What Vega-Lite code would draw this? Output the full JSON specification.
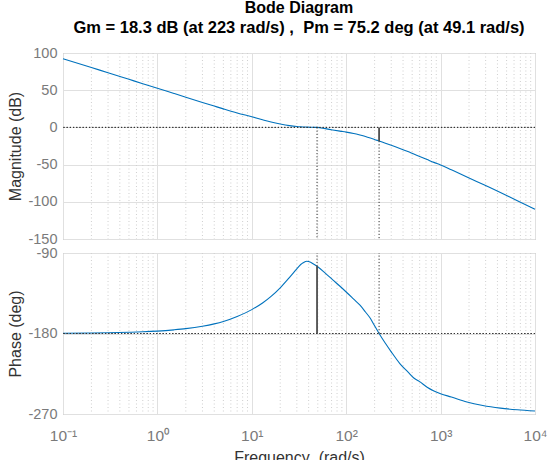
{
  "$schema": "https://vega.github.io/schema/vega-lite/v6.json",
  "padding": {"left": 7, "top": 0, "right": 5, "bottom": 5},
  "background": "white",
  "bounds": "flush",
  "title": {
    "text": "Bode Diagram",
    "subtitle": "Gm = 18.3 dB (at 223 rad/s) , \u00a0Pm = 75.2 deg (at 49.1 rad/s)",
    "font": "Liberation Sans",
    "subtitleFont": "Liberation Sans",
    "fontSize": 16,
    "subtitleFontSize": 16.5,
    "fontWeight": "bold",
    "subtitleFontWeight": "bold",
    "color": "#000000",
    "subtitleColor": "#000000",
    "anchor": "middle",
    "frame": "group",
    "offset": 8,
    "subtitlePadding": 4
  },
  "datasets": {
    "bode": [
      {"f": 0.1, "mag": 92.4, "phase": -179.7},
      {"f": 0.2, "mag": 80.5, "phase": -179.5},
      {"f": 0.3, "mag": 73.4, "phase": -179.2},
      {"f": 0.5, "mag": 64.6, "phase": -178.6},
      {"f": 0.7, "mag": 58.8, "phase": -178.1},
      {"f": 1, "mag": 52.7, "phase": -177.3},
      {"f": 1.5, "mag": 45.6, "phase": -175.9},
      {"f": 2, "mag": 40.6, "phase": -174.6},
      {"f": 3, "mag": 33.6, "phase": -171.9},
      {"f": 4, "mag": 28.7, "phase": -169.2},
      {"f": 5, "mag": 24.9, "phase": -166.5},
      {"f": 7, "mag": 19.4, "phase": -160.9},
      {"f": 10, "mag": 14.3, "phase": -153.3},
      {"f": 13, "mag": 10.3, "phase": -145.9},
      {"f": 16, "mag": 7.3, "phase": -138.5},
      {"f": 20, "mag": 4.6, "phase": -128.9},
      {"f": 25, "mag": 2.4, "phase": -117.5},
      {"f": 30, "mag": 1.2, "phase": -107.8},
      {"f": 33, "mag": 0.8, "phase": -102.9},
      {"f": 35, "mag": 0.6, "phase": -101.0},
      {"f": 38.3, "mag": 0.4, "phase": -99.2},
      {"f": 42, "mag": 0.2, "phase": -100.4},
      {"f": 45, "mag": 0.1, "phase": -102.3},
      {"f": 49.1, "mag": 0, "phase": -104.8},
      {"f": 60, "mag": -1.7, "phase": -112.5},
      {"f": 72, "mag": -3.4, "phase": -120.0},
      {"f": 86, "mag": -5.0, "phase": -127.2},
      {"f": 100, "mag": -6.3, "phase": -133.6},
      {"f": 120, "mag": -8.2, "phase": -141.6},
      {"f": 140, "mag": -10.3, "phase": -148.4},
      {"f": 160, "mag": -12.3, "phase": -156.0},
      {"f": 180, "mag": -14.3, "phase": -163.0},
      {"f": 200, "mag": -16.2, "phase": -171.4},
      {"f": 223, "mag": -18.3, "phase": -180.0},
      {"f": 260, "mag": -21.2, "phase": -190.9},
      {"f": 300, "mag": -24.0, "phase": -200.5},
      {"f": 370, "mag": -28.3, "phase": -213.6},
      {"f": 450, "mag": -32.5, "phase": -223.0},
      {"f": 520, "mag": -35.8, "phase": -229.7},
      {"f": 600, "mag": -39.0, "phase": -233.8},
      {"f": 720, "mag": -43.2, "phase": -240.0},
      {"f": 850, "mag": -47.0, "phase": -244.2},
      {"f": 1000, "mag": -50.5, "phase": -247.3},
      {"f": 1300, "mag": -57.0, "phase": -251.0},
      {"f": 1900, "mag": -66.5, "phase": -256.6},
      {"f": 2800, "mag": -76.5, "phase": -260.5},
      {"f": 4300, "mag": -87.5, "phase": -263.4},
      {"f": 6500, "mag": -98.5, "phase": -265.3},
      {"f": 10000, "mag": -110.0, "phase": -266.7}
    ],
    "margins": [
      {"f": 49.1, "mag": 0, "phase": -104.8, "kind": "Pm"},
      {"f": 223, "mag": -18.3, "phase": -180, "kind": "Gm"}
    ],
    "minor": [
      {"f": 0.2}, {"f": 0.3}, {"f": 0.4}, {"f": 0.5}, {"f": 0.6}, {"f": 0.7}, {"f": 0.8}, {"f": 0.9},
      {"f": 2}, {"f": 3}, {"f": 4}, {"f": 5}, {"f": 6}, {"f": 7}, {"f": 8}, {"f": 9},
      {"f": 20}, {"f": 30}, {"f": 40}, {"f": 50}, {"f": 60}, {"f": 70}, {"f": 80}, {"f": 90},
      {"f": 200}, {"f": 300}, {"f": 400}, {"f": 500}, {"f": 600}, {"f": 700}, {"f": 800}, {"f": 900},
      {"f": 2000}, {"f": 3000}, {"f": 4000}, {"f": 5000}, {"f": 6000}, {"f": 7000}, {"f": 8000}, {"f": 9000}
    ]
  },
  "config": {
    "font": "Liberation Sans",
    "view": {"stroke": "#a0a0a0", "strokeWidth": 1},
    "axis": {
      "labelFont": "Liberation Sans",
      "labelFontSize": 14.5,
      "labelColor": "#7a7a7a",
      "labelOverlap": false,
      "titleFont": "Liberation Sans",
      "titleFontSize": 16,
      "titleFontWeight": "normal",
      "titleColor": "#333333",
      "domain": false,
      "ticks": false,
      "gridColor": "#e0e0e0",
      "gridWidth": 1
    },
    "axisY": {"labelOverlap": false},
    "axisQuantitative": {"labelOverlap": false}
  },
  "spacing": 14,
  "vconcat": [
    {
      "width": 472,
      "height": 186,
      "layer": [
        {
          "data": {"name": "minor"},
          "mark": {"type": "rule", "color": "#cfcfcf", "strokeWidth": 1, "strokeDash": [1, 2.5]},
          "encoding": {
            "x": {
              "field": "f", "type": "quantitative",
              "scale": {"type": "log", "domain": [0.1, 10000], "nice": false},
              "axis": {
                "values": [0.1, 1, 10, 100, 1000, 10000],
                "labels": false,
                "title": null
              }
            }
          }
        },
        {
          "data": {"name": "bode"},
          "mark": {"type": "line", "color": "#0072BD", "strokeWidth": 1.1, "interpolate": "monotone"},
          "encoding": {
            "x": {"field": "f", "type": "quantitative"},
            "y": {
              "field": "mag", "type": "quantitative",
              "scale": {"domain": [-150, 100], "nice": false, "zero": false},
              "axis": {
                "values": [-150, -100, -50, 0, 50, 100],
                "labelExpr": "'' + datum.value",
                "labelOverlap": false,
                "title": "Magnitude (dB)",
                "labelPadding": 6,
                "titlePadding": 4
              }
            }
          }
        },
        {
          "data": {"name": "margins"},
          "transform": [{"filter": "datum.kind == 'Gm'"}],
          "mark": {"type": "rule", "color": "#4d4d4d", "strokeWidth": 1.8},
          "encoding": {
            "x": {"field": "f", "type": "quantitative"},
            "y": {
              "field": "mag", "type": "quantitative",
              "axis": {
                "values": [-150, -100, -50, 0, 50, 100],
                "labelExpr": "'' + datum.value",
                "labelOverlap": false,
                "title": "Magnitude (dB)",
                "labelPadding": 6,
                "titlePadding": 4
              }
            },
            "y2": {"datum": 0}
          }
        },
        {
          "data": {"name": "margins"},
          "mark": {"type": "rule", "color": "#333333", "strokeWidth": 1, "strokeDash": [1.2, 2]},
          "encoding": {
            "x": {"field": "f", "type": "quantitative"},
            "y": {
              "field": "mag", "type": "quantitative",
              "axis": {
                "values": [-150, -100, -50, 0, 50, 100],
                "labelExpr": "'' + datum.value",
                "labelOverlap": false,
                "title": "Magnitude (dB)",
                "labelPadding": 6,
                "titlePadding": 4
              }
            },
            "y2": {"datum": -150}
          }
        },
        {
          "data": {"name": "margins"},
          "mark": {"type": "rule", "color": "#333333", "strokeWidth": 1, "strokeDash": [1.2, 2]},
          "encoding": {
            "y": {
              "datum": 0,
              "axis": {
                "values": [-150, -100, -50, 0, 50, 100],
                "labelExpr": "'' + datum.value",
                "labelOverlap": false,
                "title": "Magnitude (dB)",
                "labelPadding": 6,
                "titlePadding": 4
              }
            }
          }
        }
      ]
    },
    {
      "width": 472,
      "height": 161,
      "layer": [
        {
          "data": {"name": "minor"},
          "mark": {"type": "rule", "color": "#cfcfcf", "strokeWidth": 1, "strokeDash": [1, 2.5]},
          "encoding": {
            "x": {
              "field": "f", "type": "quantitative",
              "scale": {"type": "log", "domain": [0.1, 10000], "nice": false},
              "axis": {
                "values": [0.1, 1, 10, 100, 1000, 10000],
                "labelExpr": "datum.value < 0.5 ? '10⁻¹' : datum.value < 5 ? '10⁰' : datum.value < 50 ? '10¹' : datum.value < 500 ? '10²' : datum.value < 5000 ? '10³' : '10⁴'",
                "labelFlush": false,
                "labelOverlap": false,
                "labelPadding": 14,
                "labelFontSize": 15.5,
                "title": "Frequency \u00a0(rad/s)",
                "titlePadding": 6
              }
            }
          }
        },
        {
          "data": {"name": "bode"},
          "mark": {"type": "line", "color": "#0072BD", "strokeWidth": 1.1, "interpolate": "monotone"},
          "encoding": {
            "x": {"field": "f", "type": "quantitative"},
            "y": {
              "field": "phase", "type": "quantitative",
              "scale": {"domain": [-270, -90], "nice": false, "zero": false},
              "axis": {
                "values": [-270, -180, -90],
                "labelExpr": "'' + datum.value",
                "labelOverlap": false,
                "title": "Phase (deg)",
                "labelPadding": 6,
                "titlePadding": 4
              }
            }
          }
        },
        {
          "data": {"name": "margins"},
          "transform": [{"filter": "datum.kind == 'Pm'"}],
          "mark": {"type": "rule", "color": "#4d4d4d", "strokeWidth": 1.8},
          "encoding": {
            "x": {"field": "f", "type": "quantitative"},
            "y": {"field": "phase", "type": "quantitative"},
            "y2": {"datum": -180}
          }
        },
        {
          "data": {"name": "margins"},
          "mark": {"type": "rule", "color": "#333333", "strokeWidth": 1, "strokeDash": [1.2, 2]},
          "encoding": {
            "x": {"field": "f", "type": "quantitative"},
            "y": {"field": "phase", "type": "quantitative"},
            "y2": {"datum": -90}
          }
        },
        {
          "data": {"name": "margins"},
          "mark": {"type": "rule", "color": "#333333", "strokeWidth": 1, "strokeDash": [1.2, 2]},
          "encoding": {"y": {"datum": -180}}
        }
      ]
    }
  ]
}
